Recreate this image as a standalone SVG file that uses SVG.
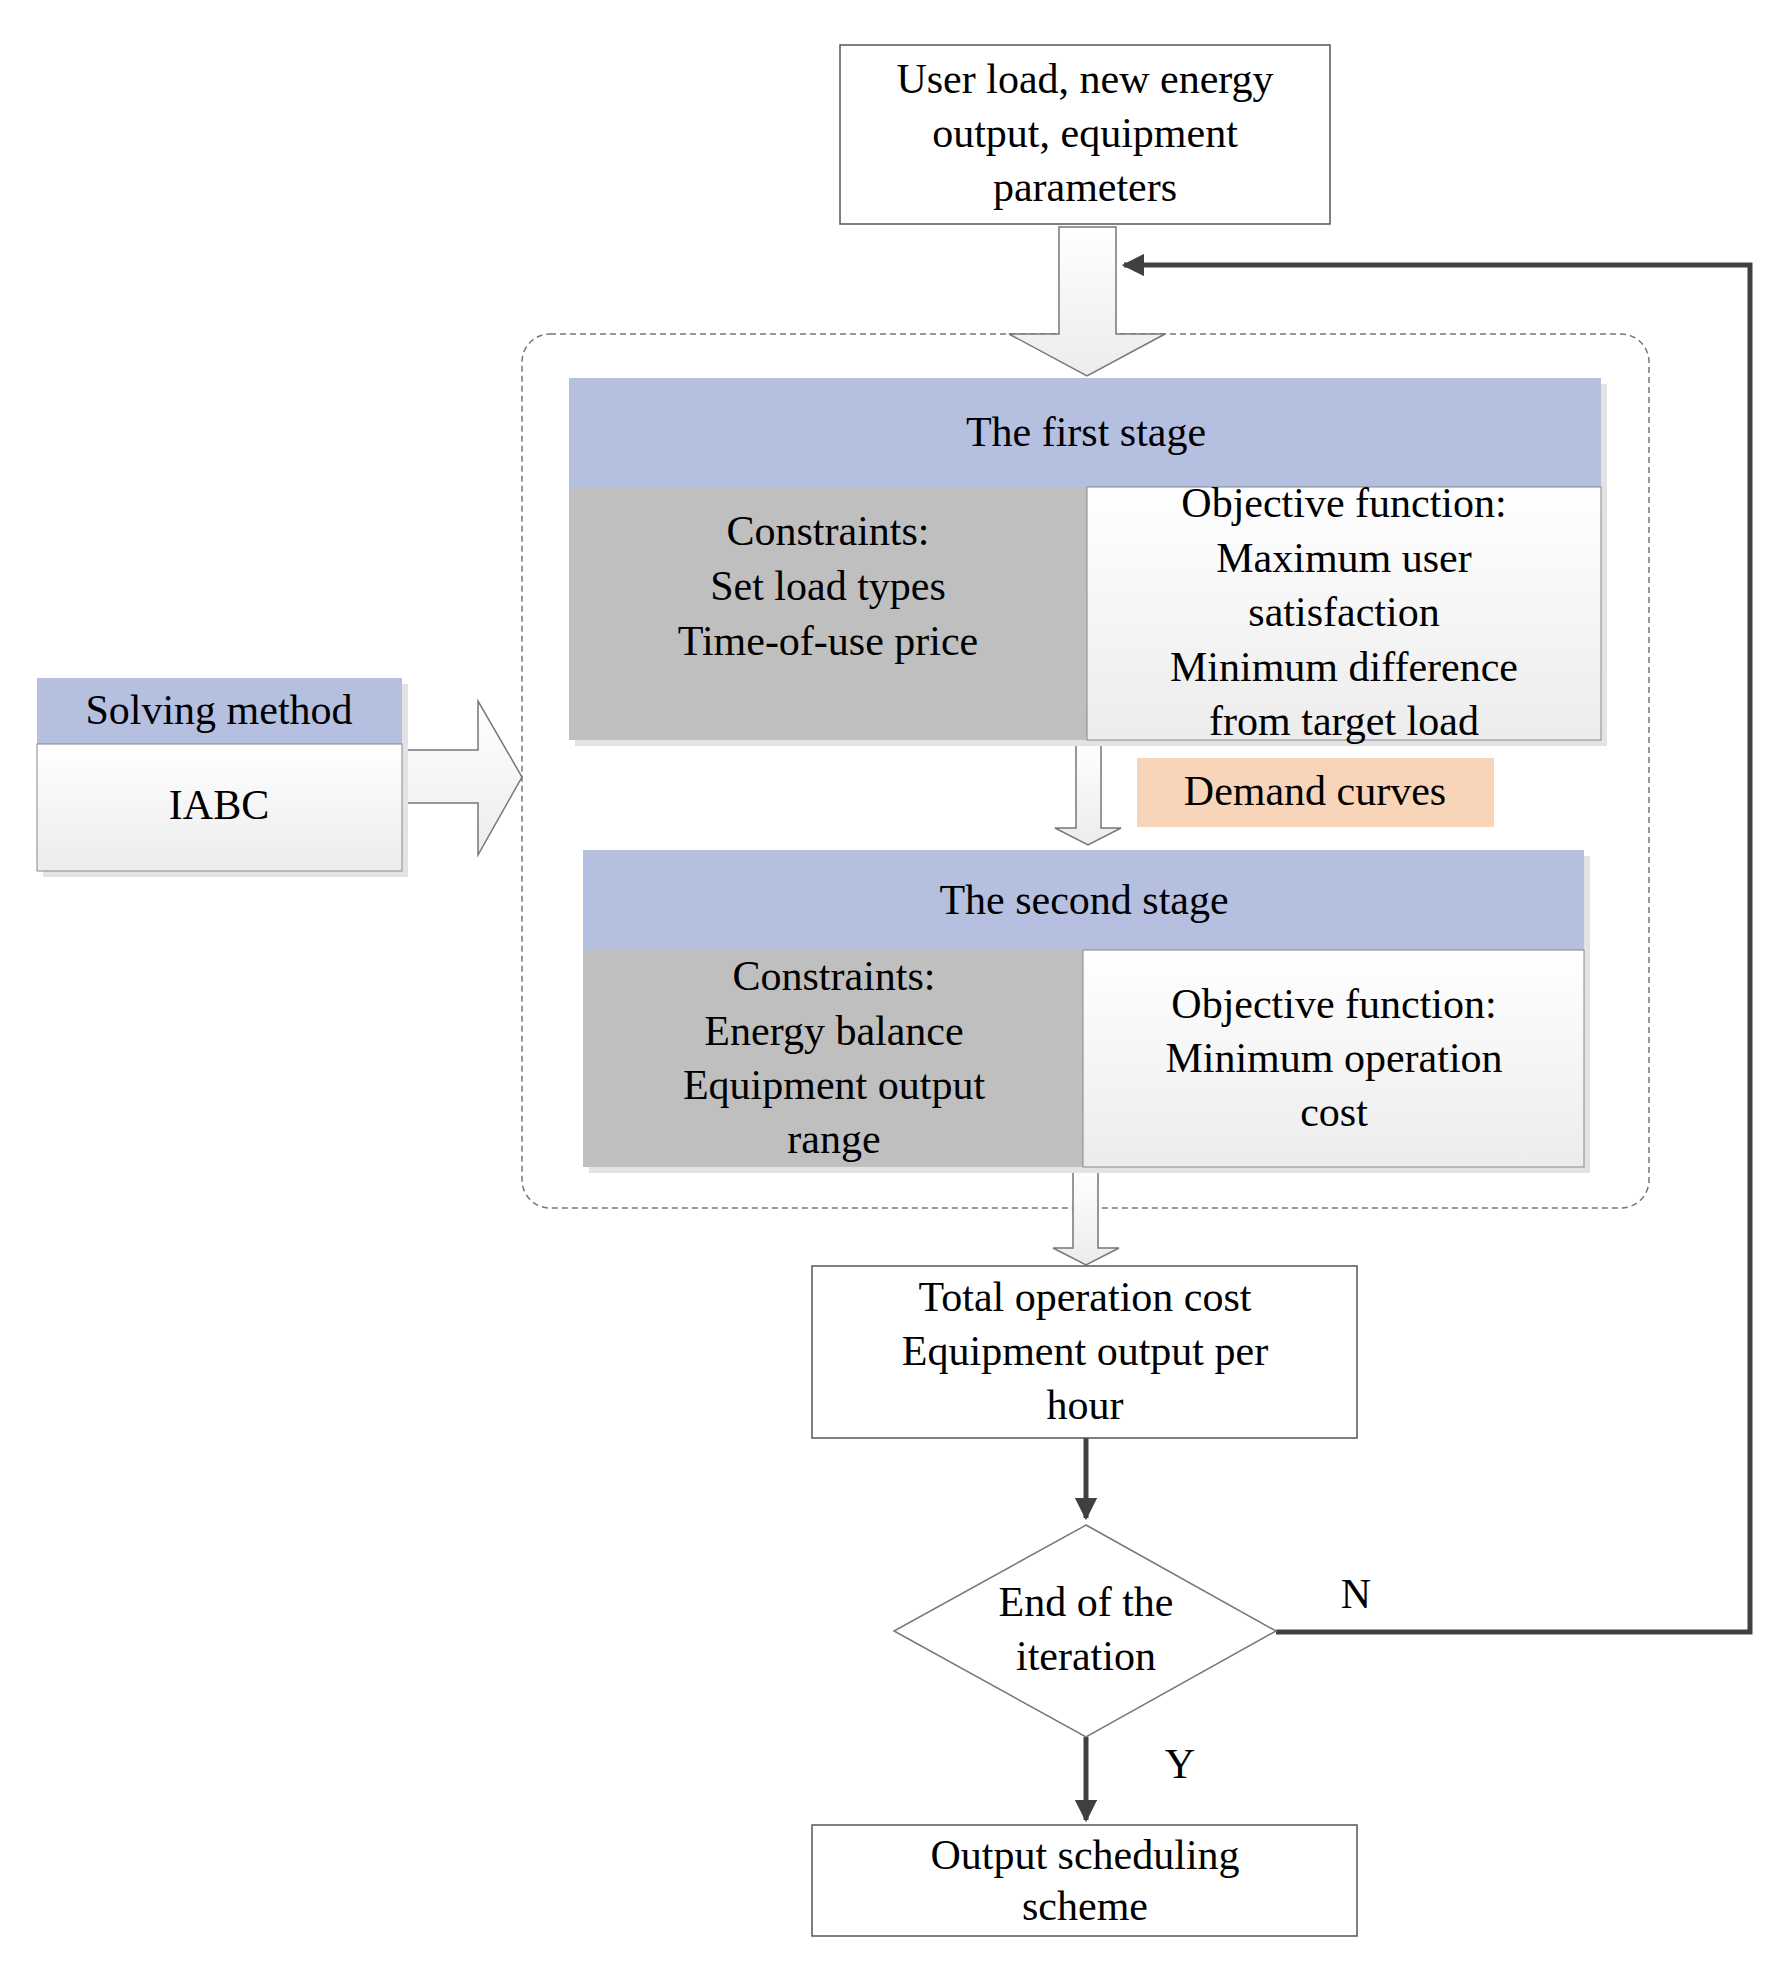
<svg xmlns="http://www.w3.org/2000/svg" width="1783" height="1961" viewBox="0 0 1783 1961">
<style>
text{font-family:"Liberation Serif","DejaVu Serif",serif;font-size:42px;fill:#000;text-anchor:middle}
.box{fill:#fff;stroke:#555;stroke-width:1.5}
.hdr{fill:#b5bfe0}
.gray{fill:#bfbfbf}
.grad{fill:url(#g)}
.sh{fill:#e3e3e3}
.hol{fill:url(#g);stroke:#777;stroke-width:1.5}
.con{fill:none;stroke:#404040;stroke-width:5}
</style>
<defs>
<linearGradient id="g" x1="0" y1="0" x2="0" y2="1"><stop offset="0" stop-color="#fff"/><stop offset="1" stop-color="#ececec"/></linearGradient>
<marker id="ah" viewBox="0 0 10 10" refX="9" refY="5" markerWidth="4.5" markerHeight="4.5" orient="auto"><path d="M0,0L10,5L0,10z" fill="#404040"/></marker>
</defs>
<rect x="522" y="334" width="1127" height="874" rx="28" fill="none" stroke="#777" stroke-width="1.5" stroke-dasharray="6,4"/>
<g id="connectors">
<path class="hol" d="M1059,227H1116V334H1165L1087,376L1009,334H1059Z"/>
<path class="hol" d="M1076,741H1101V828H1121L1088,845L1055,828H1076Z"/>
<path class="hol" d="M1073,1169H1098V1248H1119L1086,1265L1053,1248H1073Z"/>
<path class="hol" d="M404,750H478V701L522,777L478,855V803H404Z"/>
<path class="con" d="M1086,1438V1518" marker-end="url(#ah)"/>
<path class="con" d="M1086,1737V1820" marker-end="url(#ah)"/>
<path class="con" d="M1276,1632H1750V265H1124" marker-end="url(#ah)"/>
<text x="1356" y="1608">N</text>
<text x="1180" y="1778">Y</text>
</g>
<g id="input"><rect class="box" x="840" y="45" width="490" height="179"/>
<text x="1085" y="93">User load, new energy</text><text x="1085" y="147">output, equipment</text><text x="1085" y="201">parameters</text></g>
<g id="stage1">
<rect class="sh" x="575" y="384" width="1032" height="362"/>
<rect class="hdr" x="569" y="378" width="1032" height="109"/>
<rect class="gray" x="569" y="487" width="518" height="253"/>
<rect class="grad" x="1087" y="487" width="514" height="253" stroke="#888" stroke-width="1"/>
<text x="1086" y="446">The first stage</text>
<text x="828" y="545">Constraints:</text><text x="828" y="600">Set load types</text><text x="828" y="655">Time-of-use price</text>
<text x="1344" y="517">Objective function:</text><text x="1344" y="572">Maximum user</text><text x="1344" y="626">satisfaction</text><text x="1344" y="681">Minimum difference</text><text x="1344" y="735">from target load</text>
</g>
<g id="demand"><rect x="1137" y="758" width="357" height="69" fill="#f8d5b8"/><text x="1315" y="805">Demand curves</text></g>
<g id="stage2">
<rect class="sh" x="589" y="856" width="1001" height="317"/>
<rect class="hdr" x="583" y="850" width="1001" height="100"/>
<rect class="gray" x="583" y="950" width="500" height="217"/>
<rect class="grad" x="1083" y="950" width="501" height="217" stroke="#888" stroke-width="1"/>
<text x="1084" y="914">The second stage</text>
<text x="834" y="990">Constraints:</text><text x="834" y="1045">Energy balance</text><text x="834" y="1099">Equipment output</text><text x="834" y="1153">range</text>
<text x="1334" y="1018">Objective function:</text><text x="1334" y="1072">Minimum operation</text><text x="1334" y="1126">cost</text>
</g>
<g id="solving">
<rect class="sh" x="43" y="684" width="365" height="193"/>
<rect class="hdr" x="37" y="678" width="365" height="66"/>
<rect class="grad" x="37" y="744" width="365" height="127" stroke="#888" stroke-width="1"/>
<text x="219" y="724">Solving method</text><text x="219" y="819">IABC</text>
</g>
<g id="result"><rect class="box" x="812" y="1266" width="545" height="172"/>
<text x="1085" y="1311">Total operation cost</text><text x="1085" y="1365">Equipment output per</text><text x="1085" y="1419">hour</text></g>
<g id="decision"><path d="M1086,1525L1276,1631L1086,1737L894,1631Z" fill="#fff" stroke="#777" stroke-width="1.5"/>
<text x="1086" y="1616">End of the</text><text x="1086" y="1670">iteration</text></g>
<g id="output"><rect class="box" x="812" y="1825" width="545" height="111"/>
<text x="1085" y="1869">Output scheduling</text><text x="1085" y="1920">scheme</text></g>
</svg>
